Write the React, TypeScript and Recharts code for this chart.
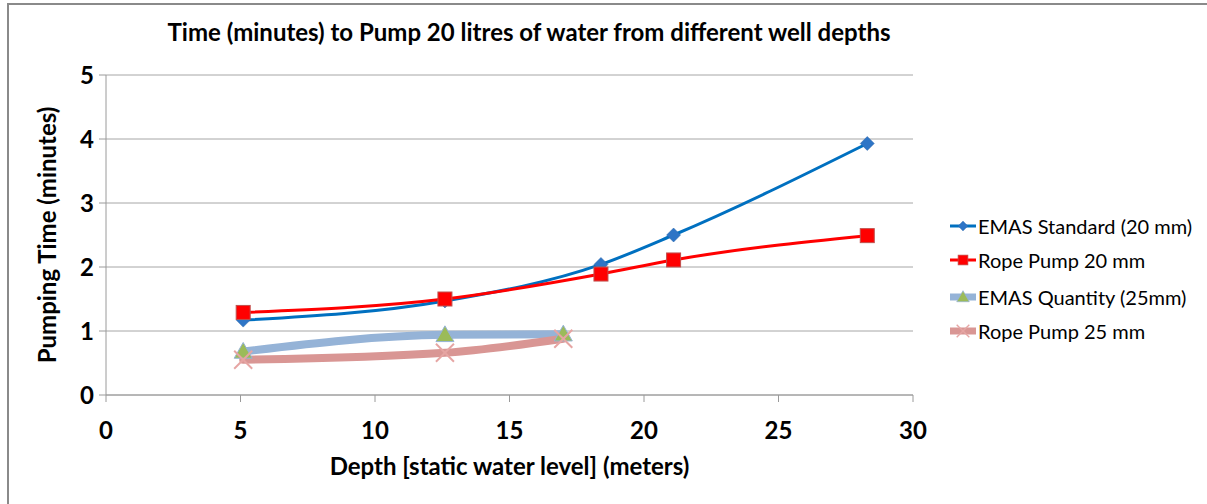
import React from 'react';
import { LineChart, Line, XAxis, YAxis, CartesianGrid } from 'recharts';

// ─── Data ─────────────────────────────────────────────────────────────────────

const DEPTH_LONG = [5.1, 12.6, 18.4, 21.1, 28.3];
const EMAS_STANDARD = [1.17, 1.47, 2.04, 2.5, 3.93];
const ROPE_PUMP_20 = [1.29, 1.5, 1.89, 2.11, 2.49];

const DEPTH_SHORT = [5.1, 12.6, 17.0];
const EMAS_QUANTITY = [0.68, 0.94, 0.95];
const ROPE_PUMP_25 = [0.55, 0.66, 0.88];

const X_TICKS = [0, 5, 10, 15, 20, 25, 30];
const Y_TICKS = [0, 1, 2, 3, 4, 5];

const toPoints = (xs: number[], ys: number[]) => xs.map((x, i) => ({ x, y: ys[i] }));

const SERIES = [
  { name: 'EMAS Standard (20 mm)', data: toPoints(DEPTH_LONG, EMAS_STANDARD), color: '#0070C0', width: 3, marker: 'diamond', markerColor: '#2E75C6' },
  { name: 'Rope Pump 20 mm', data: toPoints(DEPTH_LONG, ROPE_PUMP_20), color: '#FF0000', width: 3, marker: 'square', markerColor: '#FF0000' },
  { name: 'EMAS Quantity (25mm)', data: toPoints(DEPTH_SHORT, EMAS_QUANTITY), color: '#95B3D7', width: 8, marker: 'triangle', markerColor: '#9BBB59' },
  { name: 'Rope Pump 25 mm', data: toPoints(DEPTH_SHORT, ROPE_PUMP_25), color: '#D99694', width: 8, marker: 'cross', markerColor: '#E6A5A3' },
];

const FONT = 'Lato, "Open Sans", sans-serif';

// ─── Markers ──────────────────────────────────────────────────────────────────

function Marker({ cx, cy, kind, color }: { cx: number; cy: number; kind: string; color: string }) {
  if (cx == null || cy == null) return null;
  if (kind === 'diamond') {
    const s = 7;
    return <polygon points={`${cx},${cy - s} ${cx + s},${cy} ${cx},${cy + s} ${cx - s},${cy}`} fill={color} stroke="#2A64A8" strokeWidth={0.5} />;
  }
  if (kind === 'square') {
    const s = 7;
    return <rect x={cx - s} y={cy - s} width={s * 2} height={s * 2} fill={color} stroke="#C0504D" strokeWidth={1} />;
  }
  if (kind === 'triangle') {
    const s = 9;
    return <polygon points={`${cx},${cy - s} ${cx + s},${cy + s * 0.75} ${cx - s},${cy + s * 0.75}`} fill={color} stroke="#95B3D7" strokeWidth={1} />;
  }
  const s = 9;
  return (
    <g stroke={color} strokeWidth={2}>
      <line x1={cx - s} y1={cy - s} x2={cx + s} y2={cy + s} />
      <line x1={cx - s} y1={cy + s} x2={cx + s} y2={cy - s} />
    </g>
  );
}

// ─── Legend ───────────────────────────────────────────────────────────────────

function ChartLegend() {
  const rows = [226, 260, 297, 331];
  return (
    <div style={{ position: 'absolute', left: 950, top: 0 }}>
      {SERIES.map((s, i) => (
        <div key={s.name} style={{ position: 'absolute', top: rows[i] - 12, left: 0, display: 'flex', alignItems: 'center', height: 24, whiteSpace: 'nowrap' }}>
          <svg width={26} height={24}>
            <line x1={0} y1={12} x2={26} y2={12} stroke={s.color} strokeWidth={s.width === 3 ? 3 : 7} strokeLinecap="round" />
            <g transform="translate(13,12) scale(0.7) translate(-13,-12)">
              <Marker cx={13} cy={12} kind={s.marker} color={s.markerColor} />
            </g>
          </svg>
          <span style={{ fontFamily: FONT, fontSize: 20, color: '#000', marginLeft: 2 }}>{s.name}</span>
        </div>
      ))}
    </div>
  );
}

// ─── Chart ────────────────────────────────────────────────────────────────────

export default function App() {
  return (
    <div style={{ position: 'absolute', left: 0, top: 0, width: 1207, height: 504, background: '#fff', fontFamily: FONT }}>
      <div style={{ position: 'absolute', left: 7, top: 3, width: 1200, height: 501, borderTop: '2px solid #8A8A8A', borderLeft: '2px solid #8A8A8A' }} />
      <div style={{ position: 'absolute', left: 0, width: 1058, top: 17, textAlign: 'center', fontWeight: 700, fontSize: 24, color: '#000', whiteSpace: 'nowrap' }}>
        Time (minutes) to Pump 20 litres of water from different well depths
      </div>
      <div style={{ position: 'absolute', left: 0, top: 0 }}>
        <LineChart width={1207} height={504} margin={{ top: 75, right: 294, bottom: 0, left: 0 }}>
          <CartesianGrid horizontal vertical={false} stroke="#A6A6A6" strokeWidth={1} />
          <XAxis
            type="number" dataKey="x" domain={[0, 30]} ticks={X_TICKS} allowDuplicatedCategory={false}
            height={109} stroke="#9A9A9A" tickSize={7} tickMargin={20}
            tick={{ fontSize: 24, fontWeight: 700, fill: '#000', fontFamily: FONT }}
            label={{ value: 'Depth [static water level] (meters)', position: 'insideTop', offset: 63, fontSize: 24, fontWeight: 700, fill: '#000', fontFamily: FONT }}
          />
          <YAxis
            type="number" dataKey="y" domain={[0, 5]} ticks={Y_TICKS}
            width={106} stroke="#9A9A9A" tickSize={7} tickMargin={5}
            tick={{ fontSize: 24, fontWeight: 700, fill: '#000', fontFamily: FONT }}
            label={{ value: 'Pumping Time (minutes)', angle: -90, position: 'insideLeft', offset: 47, style: { textAnchor: 'middle' }, fontSize: 24, fontWeight: 700, fill: '#000', fontFamily: FONT }}
          />
          {SERIES.map((s) => (
            <Line
              key={s.name}
              data={s.data}
              dataKey="y"
              type="monotone"
              stroke={s.color}
              strokeWidth={s.width}
              strokeLinecap="round"
              name={s.name}
              isAnimationActive={false}
              dot={(p: any) => <Marker key={`${s.name}-${p.index}`} cx={p.cx} cy={p.cy} kind={s.marker} color={s.markerColor} />}
              activeDot={false}
            />
          ))}
        </LineChart>
      </div>
      <ChartLegend />
    </div>
  );
}
